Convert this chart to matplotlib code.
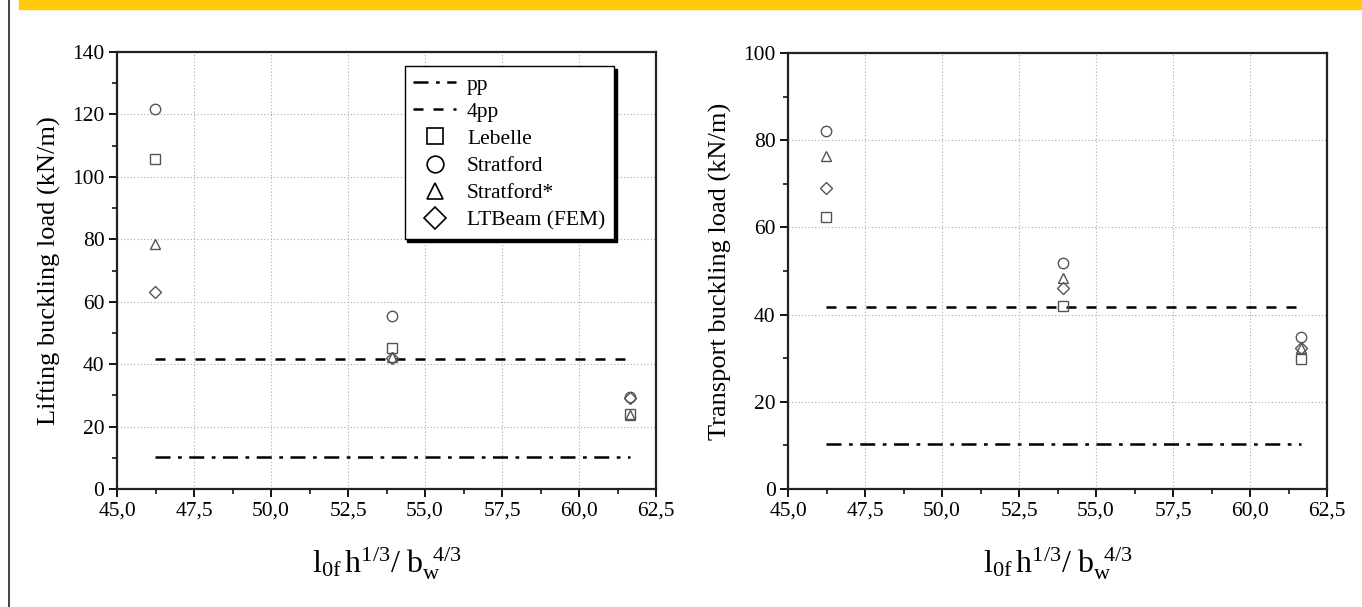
import matplotlib
matplotlib.use("Agg")
import matplotlib.pyplot as plt
from matplotlib.lines import Line2D
from matplotlib.ticker import FuncFormatter, MultipleLocator
from matplotlib.patches import Rectangle

plt.rcParams['font.family'] = ['Liberation Serif', 'DejaVu Serif']
plt.rcParams['mathtext.fontset'] = 'custom'
plt.rcParams['mathtext.rm'] = 'Liberation Serif'
plt.rcParams['mathtext.it'] = 'Liberation Serif'

# slenderness parameter of the three beams
slenderness = [46.23, 53.93, 61.66]

# lifting stage buckling loads (kN/m)
lift_lebelle = [105.8, 45.2, 24.0]
lift_stratford = [121.8, 55.4, 29.6]
lift_stratford_star = [78.5, 42.3, 23.8]
lift_ltbeam = [63.1, 42.0, 29.3]

# transport stage buckling loads (kN/m)
trans_lebelle = [62.4, 42.0, 29.8]
trans_stratford = [82.1, 51.8, 34.9]
trans_stratford_star = [76.4, 48.4, 32.3]
trans_ltbeam = [69.0, 46.1, 32.3]

# self-weight references
pp_load = 10.4
four_pp_load = 41.7

x_ticks = [45.0, 47.5, 50.0, 52.5, 55.0, 57.5, 60.0, 62.5]

fig = plt.figure(figsize=(13.62, 6.07), dpi=100)

# page decorations
fig.patches.append(Rectangle((19 / 1362, 1 - 9 / 607), 1, 9 / 607,
                             transform=fig.transFigure, color='#FFCA0A', zorder=0))
fig.add_artist(Line2D([9 / 1362, 9 / 1362], [0, 1], transform=fig.transFigure,
                      color='#333333', lw=1.3))

marker_col = '#555555'
series_style = [('s', 'Lebelle'), ('o', 'Stratford'), ('^', 'Stratford*'), ('D', 'LTBeam (FEM)')]


def comma(v, pos):
    return f"{v:.1f}".replace('.', ',')


def draw_panel(ax, series, ymax, ymajor, ylabel):
    ax.plot([slenderness[0], slenderness[-1]], [pp_load, pp_load],
            color='black', lw=1.8, ls=(0, (6, 3, 1.5, 3)))
    ax.plot([slenderness[0], slenderness[-1]], [four_pp_load, four_pp_load],
            color='black', lw=1.8, ls=(0, (4, 4)))
    for (mk, _), vals in zip(series_style, series):
        ms = 6.5 if mk == 'D' else 7.5
        ax.plot(slenderness, vals, ls='none', marker=mk, ms=ms,
                mfc='none', mec=marker_col, mew=1.0)
    ax.set_xlim(45, 62.5)
    ax.set_ylim(0, ymax)
    ax.set_xticks(x_ticks)
    ax.xaxis.set_major_formatter(FuncFormatter(comma))
    ax.xaxis.set_minor_locator(MultipleLocator(1.25))
    ax.yaxis.set_major_locator(MultipleLocator(ymajor))
    ax.yaxis.set_minor_locator(MultipleLocator(ymajor / 2))
    ax.tick_params(which='major', direction='out', length=6, width=1.3,
                   labelsize=15.5, pad=3)
    ax.tick_params(which='minor', direction='out', length=3.5, width=1.1)
    ax.grid(True, which='major', color='#aaaaaa', ls=(0, (1, 2)), lw=0.8)
    for s in ax.spines.values():
        s.set_linewidth(1.6)
        s.set_color('#222222')
    ax.set_ylabel(ylabel, fontsize=19, labelpad=8)
    ax.set_xlabel(r'$\mathregular{l_{0f}\,h^{1/3}/\;b_w^{\;\;4/3}}$', fontsize=23, labelpad=18)


ax1 = fig.add_axes([117 / 1362, 1 - 489 / 607, 539 / 1362, 437 / 607])
draw_panel(ax1, [lift_lebelle, lift_stratford, lift_stratford_star, lift_ltbeam],
           140, 20, 'Lifting buckling load (kN/m)')

ax2 = fig.add_axes([788 / 1362, 1 - 489 / 607, 539 / 1362, 436 / 607])
draw_panel(ax2, [trans_lebelle, trans_stratford, trans_stratford_star, trans_ltbeam],
           100, 20, 'Transport buckling load (kN/m)')

handles = [Line2D([], [], color='black', lw=1.8, ls=(0, (6, 3, 1.5, 3))),
           Line2D([], [], color='black', lw=1.8, ls=(0, (4, 4)))]
labels = ['pp', '4pp']
for mk, name in series_style:
    handles.append(Line2D([], [], ls='none', marker=mk, ms=12 if mk != 'D' else 11,
                          mfc='none', mec='black', mew=1.2))
    labels.append(name)

leg = ax1.legend(handles, labels, loc='upper right', bbox_to_anchor=(0.93, 0.978),
                 fontsize=15.5, frameon=True, fancybox=False, edgecolor='black',
                 framealpha=1, handlelength=2.0, handletextpad=0.5,
                 labelspacing=0.33, borderpad=0.4, borderaxespad=0.2,
                 shadow={'color': 'black', 'alpha': 1})
leg.get_frame().set_linewidth(1.0)

fig.savefig('out.png', dpi=100)
